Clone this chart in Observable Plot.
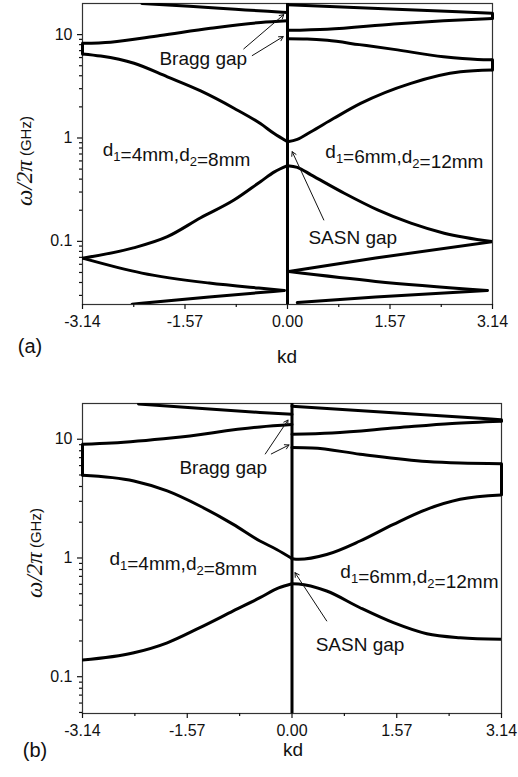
<!DOCTYPE html>
<html><head><meta charset="utf-8">
<script src="https://cdn.jsdelivr.net/npm/d3@7"></script>
<script src="https://cdn.jsdelivr.net/npm/@observablehq/plot@0.6"></script>
<style>
body{margin:0;background:#fff;}
#chart{position:relative;width:518px;height:777px;font-family:"Liberation Sans",Arial,sans-serif;}
#chart svg{position:absolute;left:0;}
</style></head><body><div id="chart"></div>
<script>
// ---- axis ticks ----
const xTicks = [-3.14, -1.57, 0, 1.57, 3.14];
const xMinorTicks = [-2.355, -0.785, 0.785, 2.355];
const yTicks = [0.1, 1, 10];
const yMinorTicksA = [0.03,0.04,0.05,0.06,0.07,0.08,0.09,0.2,0.3,0.4,0.5,0.6,0.7,0.8,0.9,2,3,4,5,6,7,8,9];
const yMinorTicksB = [0.05,0.06,0.07,0.08,0.09,0.2,0.3,0.4,0.5,0.6,0.7,0.8,0.9,2,3,4,5,6,7,8,9];
const dividers = [0];

// ---- panel (a): [kd, omega/2pi (GHz)] ----
// left half: d1=4mm, d2=8mm
const a_L1 = [[-2.23,20.0],[-1.5,18.8],[-0.8,17.6],[-0.3,16.8],[0,16.4]];
const a_L2 = [[-3.14,8.24],[-2.71,8.45],[-1.95,9.8],[-1.18,11.5],[-0.41,13.1],[0,13.6]];
const a_L3 = [[-3.14,6.5],[-2.86,6.2],[-2.35,5.28],[-1.84,3.9],[-1.33,2.85],[-0.82,1.94],[-0.41,1.37],[-0.21,1.11],[0,0.92]];
const a_L4 = [[-3.14,0.0688],[-2.36,0.0865],[-1.84,0.111],[-1.33,0.169],[-0.82,0.251],[-0.41,0.38],[-0.2,0.47],[0,0.54]];
const a_L5 = [[-3.14,0.0688],[-2.23,0.0493],[-1.2,0.0395],[-0.44,0.0353],[-0.05,0.0335]];
const a_L6 = [[-2.38,0.0247],[-1.2,0.0289],[-0.05,0.0335]];
// right half: d1=6mm, d2=12mm
const a_R1 = [[0,19.5],[1.57,17.7],[3.14,16.1]];
const a_R2 = [[0,11.0],[0.61,11.3],[1.63,12.7],[2.39,13.6],[3.14,14.3]];
const a_R3 = [[0,9.1],[0.3,9.05],[0.61,8.8],[1.1,8.0],[1.63,7.2],[2.39,6.1],[2.91,5.75],[3.14,5.72]];
const a_R4 = [[0,0.92],[0.15,0.97],[0.36,1.15],[0.71,1.55],[1.12,2.16],[1.89,3.38],[2.65,4.37],[3.14,4.54]];
const a_R5 = [[0,0.54],[0.15,0.52],[0.36,0.44],[0.87,0.292],[1.38,0.2015],[1.89,0.15],[2.40,0.12],[3.14,0.0995]];
const a_R6 = [[0.02,0.051],[1.35,0.069],[3.14,0.0995]];
const a_R7 = [[0.02,0.051],[1.35,0.041],[3.06,0.0335]];
const a_R8 = [[0.15,0.0256],[1.35,0.0289],[3.06,0.0335]];
// band-edge joins at kd = ±π: [kd, low, high]
const a_edges = [[-3.14,6.5,8.24],[3.14,14.3,16.1],[3.14,4.54,5.72]];

// ---- panel (b) ----
const b_L1 = [[-2.30,19.8],[-1.4,18.2],[-0.48,16.8],[0,16.2]];
const b_L2 = [[-3.14,9.08],[-2.7,9.3],[-1.78,10.3],[-0.48,12.7],[0,13.3]];
const b_L3 = [[-3.14,4.97],[-2.37,4.45],[-1.87,3.67],[-1.38,2.74],[-0.88,1.92],[-0.48,1.39],[-0.23,1.18],[0,0.99]];
const b_L4 = [[-3.14,0.138],[-2.37,0.159],[-1.87,0.193],[-1.38,0.259],[-0.88,0.358],[-0.48,0.463],[-0.2,0.56],[0,0.607]];
const b_R1 = [[0,19.0],[1.57,16.6],[3.14,14.6]];
const b_R2 = [[0,11.0],[0.6,11.3],[1.57,12.5],[2.4,13.6],[3.14,14.2]];
const b_R3 = [[0,8.5],[0.3,8.45],[1.02,7.48],[2.02,6.48],[2.52,6.3],[3.14,6.23]];
const b_R4 = [[0,0.985],[0.1,0.975],[0.52,1.07],[1.02,1.39],[1.52,1.92],[2.02,2.57],[2.52,3.12],[3.14,3.4]];
const b_R5 = [[0,0.607],[0.1,0.605],[0.52,0.527],[1.02,0.381],[1.52,0.285],[2.02,0.23],[2.52,0.213],[3.14,0.2065]];
const b_edges = [[-3.14,4.97,9.08],[3.14,14.2,14.6],[3.14,3.4,6.23]];

// ---- annotations ----
const a_labels = [["d1=4mm,d2=8mm",-1.70,0.76],["d1=6mm,d2=12mm",1.79,0.74],["Bragg gap",-1.29,5.86],["SASN gap",1.0,0.107]];
const a_arrows = [[-0.67,7.28,-0.057,15.6],[-0.54,6.27,-0.066,9.56],[0.556,0.161,0.072,0.737]];
const b_labels = [["d1=4mm,d2=8mm",-1.63,0.98],["d1=6mm,d2=12mm",1.91,0.76],["Bragg gap",-1.03,5.76],["SASN gap",1.02,0.185]];
const b_arrows = [[-0.40,7.52,-0.06,14.5],[-0.31,7.52,-0.045,8.95],[0.52,0.295,0.045,0.752]];

function rowsOf(curves){
  const out=[];
  Object.entries(curves).forEach(([id,pts])=>pts.forEach(([kd,w])=>out.push({id,kd,w})));
  return out;
}
function edgeRows(edges){
  const out=[];
  edges.forEach(([kd,lo,hi],i)=>{out.push({id:i,kd,w:lo});out.push({id:i,kd,w:hi});});
  return out;
}

function panel({curves, edges, labels, arrows, yDomain, yMinor, height, mt, mb, mr}){
  const ann = labels.map(([text,kd,w])=>({text,kd,w}));
  const arr = arrows.map(([kd1,w1,kd2,w2])=>({kd1,w1,kd2,w2}));
  return Plot.plot({
    width:518, height, marginLeft:82, marginRight:mr, marginTop:mt, marginBottom:mb,
    x:{domain:[-3.14,3.14]},
    y:{type:"log", domain:yDomain},
    style:{fontFamily:'"Liberation Sans", Arial, sans-serif', fontSize:"16px", color:"#111", background:"white", overflow:"visible"},
    marks:[
      Plot.frame({stroke:"#333", strokeWidth:1.2}),
      Plot.axisX({ticks:xTicks, tickFormat:d=>d.toFixed(2), tickSize:5, tickPadding:6, fontSize:16, label:null, strokeWidth:1.2}),
      Plot.axisX({ticks:xMinorTicks, tickFormat:()=>"", tickSize:3, label:null, strokeWidth:1.2}),
      Plot.axisY({ticks:yTicks, tickFormat:d=>String(d), tickSize:5, tickPadding:5, fontSize:16, label:null, strokeWidth:1.2}),
      Plot.axisY({ticks:yMinor, tickFormat:()=>"", tickSize:3, label:null, strokeWidth:1.2}),
      Plot.ruleX(dividers, {stroke:"#000", strokeWidth:3}),
      Plot.line(rowsOf(curves), {x:"kd", y:"w", z:"id", curve:"monotone-x", stroke:"#000", strokeWidth:3, clip:true}),
      Plot.line(edgeRows(edges), {x:"kd", y:"w", z:"id", stroke:"#000", strokeWidth:3}),
      Plot.arrow(arr, {x1:"kd1", y1:"w1", x2:"kd2", y2:"w2", stroke:"#111", strokeWidth:1, headLength:7}),
      Plot.text(ann, {x:"kd", y:"w", text:"text", fontSize:19, fill:"#111", className:"ann"})
    ]
  });
}

const chart = document.getElementById("chart");
const A = panel({
  curves:{a_L1,a_L2,a_L3,a_L4,a_L5,a_L6,a_R1,a_R2,a_R3,a_R4,a_R5,a_R6,a_R7,a_R8},
  edges:a_edges, labels:a_labels, arrows:a_arrows,
  yDomain:[0.0245,20], yMinor:yMinorTicksA, height:375, mt:3, mb:71, mr:26
});
A.style.top="0px";
const B = panel({
  curves:{b_L1,b_L2,b_L3,b_L4,b_R1,b_R2,b_R3,b_R4,b_R5},
  edges:b_edges, labels:b_labels, arrows:b_arrows,
  yDomain:[0.049,20], yMinor:yMinorTicksB, height:402, mt:28, mb:64, mr:17
});
B.style.top="375px";
chart.appendChild(A); chart.appendChild(B);

// subscripts in d1/d2 labels
function subscriptify(svg){
  d3.select(svg).selectAll(".ann text").each(function(){
    const s=this.textContent;
    if(!/d\d/.test(s)) return;
    const t=d3.select(this); t.text(null);
    s.split(/(d\d)/).forEach(p=>{
      if(!p) return;
      if(/^d\d$/.test(p)){
        t.append("tspan").text("d");
        t.append("tspan").attr("font-size",13).attr("dy",5).text(p[1]);
        t.append("tspan").attr("dy",-5).text("");
      } else t.append("tspan").text(p);
    });
  });
}
subscriptify(A); subscriptify(B);

function extras(svg, panelLetter, kdX, kdBase, letterX, letterY, ylabX, ylabY){
  const s=d3.select(svg);
  s.append("text").attr("x",kdX).attr("y",kdBase).attr("text-anchor","middle")
    .attr("font-size",19).attr("fill","#111").text("kd");
  s.append("text").attr("x",letterX).attr("y",letterY).attr("text-anchor","middle").attr("dominant-baseline","middle")
    .attr("font-size",20).attr("fill","#111").text(panelLetter);
  const yl=s.append("text").attr("transform",`translate(${ylabX},${ylabY}) rotate(-90)`).attr("text-anchor","middle")
    .attr("dominant-baseline","middle").attr("fill","#111");
  yl.append("tspan").attr("font-family",'"Liberation Serif", "DejaVu Serif", serif').attr("font-style","italic").attr("font-size",23).text("ω/2π");
  yl.append("tspan").attr("font-size",15).text(" (GHz)");
}
extras(A,"(a)",287,363,30,348,27,161);
extras(B,"(b)",293,381,35,377,37,178);
</script></body></html>
